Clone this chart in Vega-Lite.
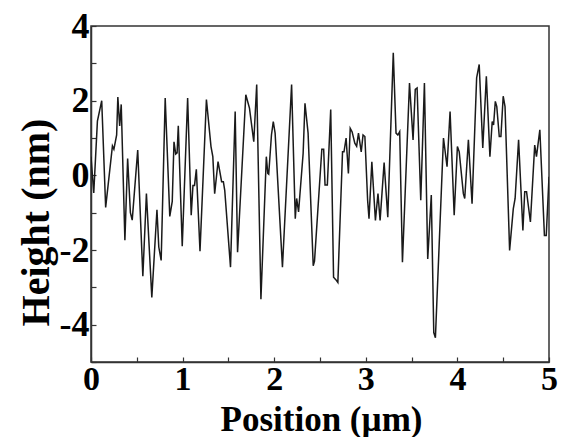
{
  "$schema": "https://vega.github.io/schema/vega-lite/v6.json",
  "width": 458,
  "height": 336,
  "autosize": {"type": "none"},
  "padding": {"left": 91, "top": 26, "right": 12, "bottom": 75},
  "background": "white",
  "config": {"view": {"stroke": "#333333", "strokeWidth": 1.5}, "font": "Liberation Serif"},
  "data": {"values": [
    {"pos": 0.0, "h": 0.5}, {"pos": 0.03, "h": -0.47}, {"pos": 0.07, "h": 1.45}, {"pos": 0.117, "h": 2.0},
    {"pos": 0.16, "h": -0.86}, {"pos": 0.234, "h": 0.79}, {"pos": 0.25, "h": 0.7}, {"pos": 0.28, "h": 1.08},
    {"pos": 0.293, "h": 2.1}, {"pos": 0.313, "h": 1.32}, {"pos": 0.33, "h": 1.9}, {"pos": 0.37, "h": -1.74},
    {"pos": 0.4, "h": 0.45}, {"pos": 0.43, "h": -1.0}, {"pos": 0.45, "h": -1.2}, {"pos": 0.51, "h": 0.68},
    {"pos": 0.566, "h": -2.7}, {"pos": 0.605, "h": -0.49}, {"pos": 0.664, "h": -3.27}, {"pos": 0.72, "h": -0.92},
    {"pos": 0.74, "h": -1.92}, {"pos": 0.766, "h": -2.28}, {"pos": 0.81, "h": 2.07}, {"pos": 0.86, "h": -1.1},
    {"pos": 0.887, "h": -0.7}, {"pos": 0.906, "h": 0.9}, {"pos": 0.925, "h": 0.57}, {"pos": 0.94, "h": 0.6},
    {"pos": 0.953, "h": 1.33}, {"pos": 0.996, "h": -1.9}, {"pos": 1.055, "h": 2.07}, {"pos": 1.094, "h": -1.07},
    {"pos": 1.113, "h": -0.27}, {"pos": 1.13, "h": -0.27}, {"pos": 1.15, "h": 0.16}, {"pos": 1.19, "h": -2.03},
    {"pos": 1.26, "h": 2.03}, {"pos": 1.31, "h": 0.77}, {"pos": 1.33, "h": 0.5}, {"pos": 1.35, "h": -0.49},
    {"pos": 1.387, "h": 0.37}, {"pos": 1.426, "h": -0.17}, {"pos": 1.445, "h": -0.17}, {"pos": 1.46, "h": -0.4},
    {"pos": 1.523, "h": -2.46}, {"pos": 1.574, "h": 1.71}, {"pos": 1.6, "h": -2.06}, {"pos": 1.69, "h": 2.16},
    {"pos": 1.73, "h": 1.8}, {"pos": 1.777, "h": 0.9}, {"pos": 1.809, "h": 2.43}, {"pos": 1.855, "h": -3.32},
    {"pos": 1.914, "h": 0.5}, {"pos": 1.93, "h": 0.05}, {"pos": 1.94, "h": 0.03}, {"pos": 1.97, "h": 1.08},
    {"pos": 1.99, "h": 1.44}, {"pos": 2.01, "h": 1.13}, {"pos": 2.09, "h": -2.46}, {"pos": 2.19, "h": 2.43},
    {"pos": 2.23, "h": -1.16}, {"pos": 2.245, "h": -0.62}, {"pos": 2.266, "h": -0.98}, {"pos": 2.316, "h": 0.59},
    {"pos": 2.336, "h": 1.93}, {"pos": 2.37, "h": 1.13}, {"pos": 2.426, "h": -2.42}, {"pos": 2.44, "h": -2.3},
    {"pos": 2.52, "h": 0.7}, {"pos": 2.54, "h": 0.7}, {"pos": 2.555, "h": -0.26}, {"pos": 2.58, "h": -0.26},
    {"pos": 2.617, "h": 1.76}, {"pos": 2.648, "h": -2.73}, {"pos": 2.675, "h": -2.8}, {"pos": 2.695, "h": -2.87},
    {"pos": 2.746, "h": 0.63}, {"pos": 2.762, "h": 0.63}, {"pos": 2.785, "h": 1.0}, {"pos": 2.81, "h": 0.05},
    {"pos": 2.83, "h": 1.26}, {"pos": 2.85, "h": 1.17}, {"pos": 2.88, "h": 0.86}, {"pos": 2.9, "h": 0.78},
    {"pos": 2.92, "h": 1.13}, {"pos": 2.95, "h": 0.63}, {"pos": 2.97, "h": 1.08}, {"pos": 2.99, "h": 1.04},
    {"pos": 3.02, "h": -0.67}, {"pos": 3.035, "h": -1.16}, {"pos": 3.066, "h": 0.36}, {"pos": 3.105, "h": -1.21},
    {"pos": 3.133, "h": -0.49}, {"pos": 3.156, "h": -1.21}, {"pos": 3.2, "h": 0.34}, {"pos": 3.24, "h": -1.12},
    {"pos": 3.3, "h": 3.28}, {"pos": 3.33, "h": 1.13}, {"pos": 3.35, "h": 1.08}, {"pos": 3.37, "h": 1.17},
    {"pos": 3.4, "h": -2.33}, {"pos": 3.477, "h": 2.47}, {"pos": 3.516, "h": 0.95}, {"pos": 3.54, "h": 2.3},
    {"pos": 3.56, "h": 2.34}, {"pos": 3.6, "h": -0.67}, {"pos": 3.64, "h": 2.47}, {"pos": 3.676, "h": -2.24},
    {"pos": 3.715, "h": -0.53}, {"pos": 3.742, "h": -4.21}, {"pos": 3.76, "h": -4.35}, {"pos": 3.848, "h": 1.0},
    {"pos": 3.887, "h": 0.23}, {"pos": 3.92, "h": 1.71}, {"pos": 3.965, "h": -1.07}, {"pos": 4.0, "h": 0.77},
    {"pos": 4.02, "h": 0.63}, {"pos": 4.065, "h": -0.49}, {"pos": 4.08, "h": -0.62}, {"pos": 4.12, "h": 0.95},
    {"pos": 4.16, "h": -0.76}, {"pos": 4.21, "h": 2.61}, {"pos": 4.238, "h": 2.97}, {"pos": 4.277, "h": 0.73},
    {"pos": 4.316, "h": 2.65}, {"pos": 4.355, "h": 0.5}, {"pos": 4.38, "h": 1.44}, {"pos": 4.395, "h": 1.35},
    {"pos": 4.414, "h": 1.98}, {"pos": 4.43, "h": 1.84}, {"pos": 4.457, "h": 1.04}, {"pos": 4.475, "h": 1.04},
    {"pos": 4.5, "h": 2.12}, {"pos": 4.52, "h": 1.84}, {"pos": 4.57, "h": -2.01}, {"pos": 4.61, "h": -0.9},
    {"pos": 4.63, "h": -0.62}, {"pos": 4.668, "h": 0.95}, {"pos": 4.715, "h": -1.48}, {"pos": 4.735, "h": -0.44},
    {"pos": 4.755, "h": -0.44}, {"pos": 4.797, "h": -1.25}, {"pos": 4.844, "h": 0.81}, {"pos": 4.863, "h": 0.5},
    {"pos": 4.9, "h": 1.22}, {"pos": 4.95, "h": -1.61}, {"pos": 4.97, "h": -1.61}, {"pos": 5.0, "h": -0.04}
  ]},
  "mark": {"type": "line", "color": "#1a1a1a", "strokeWidth": 1.5, "clip": true},
  "encoding": {
    "x": {
      "field": "pos", "type": "quantitative",
      "scale": {"domain": [0, 5], "nice": false, "zero": false},
      "axis": {
        "values": [0, 0.5, 1, 1.5, 2, 2.5, 3, 3.5, 4, 4.5, 5],
        "labelExpr": "datum.value % 1 === 0 ? '' + datum.value : ''",
        "grid": false,
        "domainColor": "#333333", "domainWidth": 1.5,
        "tickColor": "#333333", "tickWidth": 1.2, "tickSize": -5,
        "labelFont": "Liberation Serif", "labelFontWeight": "bold", "labelFontSize": 34, "labelColor": "black",
        "labelPadding": 5, "labelFlush": false, "labelOverlap": false,
        "title": "Position (µm)",
        "titleFont": "Liberation Serif", "titleFontWeight": "bold", "titleFontSize": 35, "titleColor": "black",
        "titleBaseline": "alphabetic", "titleY": 68, "titleX": 230
      }
    },
    "y": {
      "field": "h", "type": "quantitative",
      "scale": {"domain": [-5, 4], "nice": false, "zero": false},
      "axis": {
        "values": [-5, -4, -3, -2, -1, 0, 1, 2, 3, 4],
        "labelExpr": "datum.value % 2 === 0 ? '' + datum.value : ''",
        "grid": false,
        "domainColor": "#333333", "domainWidth": 1.5,
        "tickColor": "#333333", "tickWidth": 1.2, "tickSize": -5,
        "labelFont": "Liberation Serif", "labelFontWeight": "bold", "labelFontSize": 36, "labelColor": "black",
        "labelPadding": 7, "labelFlush": false, "labelOverlap": false,
        "title": "Height (nm)",
        "titleFont": "Liberation Serif", "titleFontWeight": "bold", "titleFontSize": 40, "titleColor": "black",
        "titleBaseline": "alphabetic", "titleX": -43, "titleY": 196, "titleAngle": -90
      }
    }
  }
}
